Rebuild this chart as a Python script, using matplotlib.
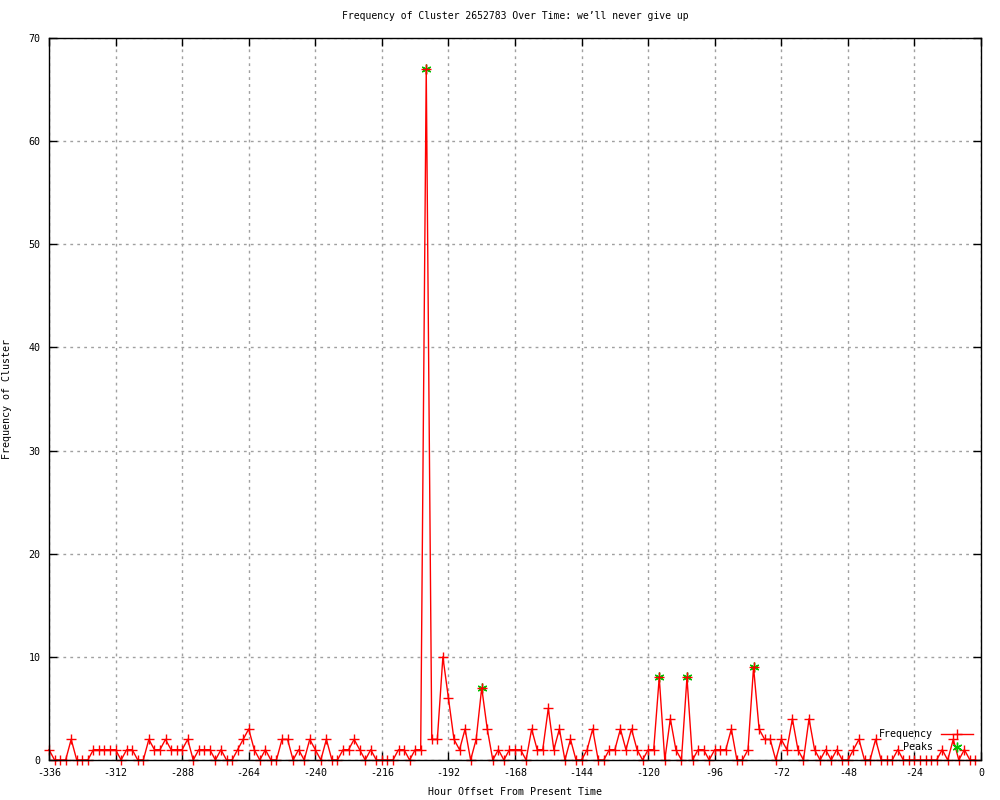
import numpy as np
import matplotlib
matplotlib.use("Agg")
import matplotlib.pyplot as plt

# Hourly offsets (every 2 hours) and cluster frequency
hours = list(range(-336, 0, 2))
freq = [
    1, 0, 0, 0, 2, 0, 0, 0, 1, 1, 1, 1,        # -336 .. -314
    1, 0, 1, 1, 0, 0, 2, 1, 1, 2, 1, 1,        # -312 .. -290
    1, 2, 0, 1, 1, 1, 0, 1, 0, 0, 1, 2,        # -288 .. -266
    3, 1, 0, 1, 0, 0, 2, 2, 0, 1, 0, 2,        # -264 .. -242
    1, 0, 2, 0, 0, 1, 1, 2, 1, 0, 1, 0,        # -240 .. -218
    0, 0, 0, 1, 1, 0, 1, 1, 67, 2, 2, 10,      # -216 .. -194
    6, 2, 1, 3, 0, 2, 7, 3, 0, 1, 0, 1,        # -192 .. -170
    1, 1, 0, 3, 1, 1, 5, 1, 3, 0, 2, 0,        # -168 .. -146
    0, 1, 3, 0, 0, 1, 1, 3, 1, 3, 1, 0,        # -144 .. -122
    1, 1, 8, 0, 4, 1, 0, 8, 0, 1, 1, 0,        # -120 .. -98
    1, 1, 1, 3, 0, 0, 1, 9, 3, 2, 2, 0,        # -96 .. -74
    2, 1, 4, 1, 0, 4, 1, 0, 1, 0, 1, 0,        # -72 .. -50
    0, 1, 2, 0, 0, 2, 0, 0, 0, 1, 0, 0,        # -48 .. -26
    0, 0, 0, 0, 0, 1, 0, 2, 0, 1, 0, 0,        # -24 .. -2
]
peak_hours = [-200, -180, -116, -106, -82]
peak_vals = [67, 7, 8, 8, 9]

xticks = list(range(-336, 1, 24))
yticks = list(range(0, 71, 10))

plt.rcParams['font.family'] = ['DejaVu Sans Mono']
plt.rcParams['font.size'] = 7.2
plt.rcParams['axes.unicode_minus'] = False

fig = plt.figure(figsize=(10, 8), dpi=100)
ax = fig.add_axes([0.049, 0.05, 0.932, 0.9025])

ax.plot(peak_hours, peak_vals, linestyle='none', marker=(6, 2, 0), color='#00c000',
        markersize=7, markeredgewidth=1, label='Peaks', zorder=3, clip_on=False)
ax.plot(hours, freq, color='#ff0000', linewidth=1, marker='+', markersize=7,
        markeredgewidth=1, label='Frequency', zorder=4, clip_on=False)

ax.set_xlim(-336, 0)
ax.set_ylim(0, 70)
ax.set_xticks(xticks)
ax.set_yticks(yticks)
ax.tick_params(direction='in', length=6, width=1, top=True, right=True, pad=6)
ax.grid(True, color='#a0a0a0', linestyle=(0, (2, 3)), linewidth=1)
ax.set_axisbelow(True)
for s in ax.spines.values():
    s.set_linewidth(1)
    s.set_zorder(5)

ax.set_title('Frequency of Cluster 2652783 Over Time: we\u2019ll never give up', pad=14,
             fontsize=7.0)
ax.set_xlabel('Hour Offset From Present Time', labelpad=6)
ax.set_ylabel('Frequency of Cluster', labelpad=12)

h, l = ax.get_legend_handles_labels()
leg = ax.legend([h[1], h[0]], [l[1], l[0]], loc='lower right', frameon=False,
                markerfirst=False, handlelength=3.2, borderaxespad=0.4,
                labelspacing=0.3, handletextpad=0.8)
for t in leg.get_texts():
    t.set_ha('right')

fig.savefig('out.png', dpi=100)
